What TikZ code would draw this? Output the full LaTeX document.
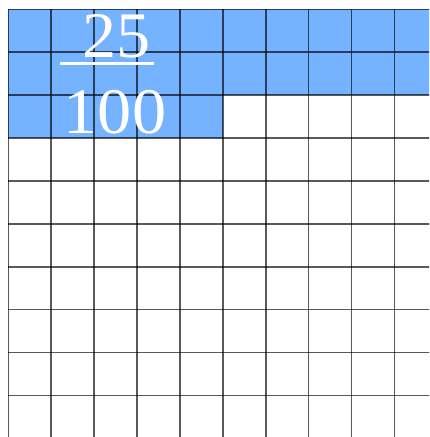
\documentclass[tikz,border=0pt]{standalone}
\usepackage{fontspec}
\setmainfont{Liberation Serif}
\newfontfamily\digitfont[FakeStretch=1.05]{Liberation Serif}
\definecolor{cellblue}{RGB}{117,178,255}
\begin{document}
\begin{tikzpicture}[x=1pt,y=-1pt,
  gridline/.style={draw=black,opacity=0.65,line width=1.6pt},
  numtext/.style={text=white,font=\digitfont\fontsize{65}{65}\selectfont,inner sep=0pt},
  fracbar/.style={draw=white,line width=3pt}]
\useasboundingbox (0,0) rectangle (429,437);
\begin{scope}
\clip (0,0) rectangle (429,437);
\fill[cellblue] (8.3,9.3) rectangle (440,95.1);
\fill[cellblue] (8.3,95.1) rectangle (222.8,138);
\foreach \i in {0,...,10} { \draw[gridline] (8.3+42.9*\i,9.3) -- (8.3+42.9*\i,440); }
\foreach \j in {0,...,10} { \draw[gridline] (8.3,9.3+42.9*\j) -- (440,9.3+42.9*\j); }
\end{scope}
\node[numtext,anchor=base] (num) at (117,57.5) {25};
\node[numtext,anchor=base] (den) at (115,133) {100};
\coordinate (barL) at (60,63.8);
\coordinate (barR) at (154,63.8);
\draw[fracbar] (barL) -- (barR);
\end{tikzpicture}
\end{document}
